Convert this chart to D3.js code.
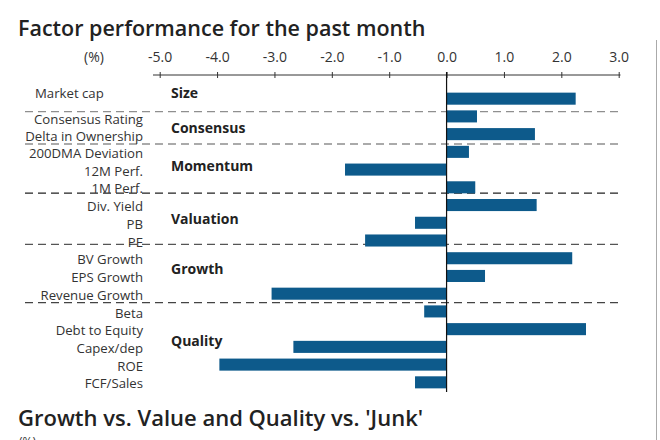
<!DOCTYPE html>
<html>
<head>
<meta charset="utf-8">
<script src="https://cdn.jsdelivr.net/npm/d3@7/dist/d3.min.js"></script>
<style>
  html, body { margin: 0; padding: 0; background: #fff; }
  svg { display: block; font-family: "Open Sans", "DejaVu Sans", sans-serif; }
</style>
</head>
<body>
<svg id="chart" width="660" height="440"></svg>
<script>
// ---- data ----
const categories = ["Market cap", "Consensus Rating", "Delta in Ownership", "200DMA Deviation",
  "12M Perf.", "1M Perf.", "Div. Yield", "PB", "PE", "BV Growth", "EPS Growth",
  "Revenue Growth", "Beta", "Debt to Equity", "Capex/dep", "ROE", "FCF/Sales"];
const values = [2.25, 0.53, 1.54, 0.39, -1.77, 0.50, 1.57, -0.55, -1.42, 2.19, 0.67,
  -3.05, -0.39, 2.43, -2.67, -3.96, -0.55];
const groupNames = ["Size", "Consensus", "Momentum", "Valuation", "Growth", "Quality"];
const groupSizes = [1, 2, 3, 3, 3, 5];
const tickValues = [-5, -4, -3, -2, -1, 0, 1, 2, 3];
const title = "Factor performance for the past month";
const nextTitle = "Growth vs. Value and Quality vs. 'Junk'";
const unitLabel = "(%)";

// ---- layout (hand-placed nudges, in pixels) ----
const sepNudge = [4, 1, -3, -5, 0];            // separator lines vs. band boundary
const groupLabelNudge = [-5.5, 3, -3, -4, -7, -6];
const catLabelNudge = [-5.5, 3, 2];            // remaining labels use +1.5
const sepColors = ["#8f8f8f", "#8f8f8f", "#222", "#555", "#444"];

// ---- drawing ----
const svg = d3.select("#chart");
const barColor = "#0d5a8b";
const textColor = "#333";
const fmt = d3.formatLocale({ decimal: ".", thousands: ",", grouping: [3], currency: ["", ""], minus: "-" }).format(".1f");

const x = d3.scaleLinear().domain([-5, 3]).range([159.7, 618.7]);
const y = d3.scaleBand().domain(categories).range([89.8, 391.2]).paddingInner(0.32).paddingOuter(0.16);

// right frame line
svg.append("line").attr("x1", 656.5).attr("x2", 656.5).attr("y1", 40).attr("y2", 440)
  .attr("stroke", "#aaa").attr("stroke-width", 1);

// title
svg.append("text").attr("x", 18).attr("y", 35.5).text(title)
  .attr("font-size", 21.5).attr("font-weight", 600).attr("fill", "#222");

// top axis
const axisY = 75;
const axis = d3.axisTop(x).tickValues(tickValues).tickFormat(fmt).tickSizeOuter(0).tickSize(3);
const ag = svg.append("g").attr("transform", `translate(0,${axisY})`).call(axis);
ag.select(".domain").remove();
ag.append("line").attr("x1", 153).attr("x2", 620.5).attr("stroke", textColor).attr("stroke-width", 1);
ag.selectAll(".tick line").attr("y1", -3).attr("y2", 3).attr("stroke", textColor);
ag.selectAll(".tick text").attr("y", -13).attr("font-size", 14).attr("fill", textColor)
  .attr("font-family", "\"Open Sans\", sans-serif").attr("dy", 0);
svg.append("text").attr("x", 94).attr("y", axisY - 13).attr("text-anchor", "middle")
  .attr("font-size", 14).attr("fill", textColor).text(unitLabel);

// groups
let start = 0;
const groups = groupNames.map((name, i) => {
  const g = { name, first: start, last: start + groupSizes[i] - 1 };
  start += groupSizes[i];
  return g;
});

// group separators
groups.slice(1).forEach((g, i) => {
  const yy = y(categories[g.first]) - y.step() * y.paddingInner() / 2 + sepNudge[i];
  svg.append("line").attr("x1", 25).attr("x2", 620).attr("y1", yy).attr("y2", yy)
    .attr("stroke", sepColors[i]).attr("stroke-width", 1.3).attr("stroke-dasharray", "8,5");
});

// bars
svg.append("g").selectAll("rect").data(values).join("rect")
  .attr("x", d => x(Math.min(0, d)))
  .attr("width", d => Math.abs(x(d) - x(0)))
  .attr("y", (d, i) => y(categories[i]))
  .attr("height", y.bandwidth())
  .attr("fill", barColor);

// zero line
svg.append("line").attr("x1", x(0)).attr("x2", x(0)).attr("y1", axisY - 3).attr("y2", 392)
  .attr("stroke", "#111").attr("stroke-width", 1.2);

// category labels
svg.append("g").selectAll("text").data(categories).join("text")
  .attr("x", (d, i) => i === 0 ? 35 : 143)
  .attr("text-anchor", (d, i) => i === 0 ? "start" : "end")
  .attr("y", (d, i) => y(d) + y.bandwidth() / 2 + (i < catLabelNudge.length ? catLabelNudge[i] : 1.5))
  .attr("dy", "0.35em")
  .attr("font-size", 13.2).attr("fill", textColor)
  .text(d => d);

// group labels
svg.append("g").selectAll("text").data(groups).join("text")
  .attr("x", 171)
  .attr("y", (g, i) => (y(categories[g.first]) + y(categories[g.last]) + y.bandwidth()) / 2 + groupLabelNudge[i])
  .attr("dy", "0.35em")
  .attr("font-size", 14).attr("font-weight", 700).attr("fill", "#222")
  .text(g => g.name);

// next chart title (cut off at bottom, as in the reference)
svg.append("text").attr("x", 18).attr("y", 425.5).text(nextTitle)
  .attr("font-size", 22).attr("font-weight", 600).attr("fill", "#222");
svg.append("text").attr("x", 19).attr("y", 446).text(unitLabel)
  .attr("font-size", 12).attr("fill", textColor);
</script>
</body>
</html>
